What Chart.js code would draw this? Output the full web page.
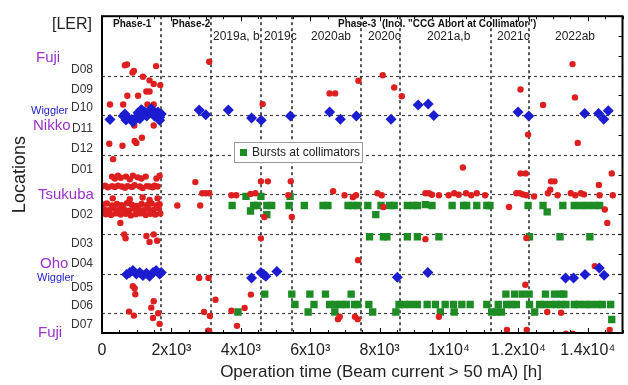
<!DOCTYPE html>
<html>
<head>
<meta charset="utf-8">
<script src="https://cdn.jsdelivr.net/npm/chart.js@4.4.1/dist/chart.umd.min.js"></script>
<style>
  html, body { margin: 0; padding: 0; background: #fff; }
  #chart { display: block; }
</style>
</head>
<body>
<canvas id="chart" width="628" height="385"></canvas>
<script>
// [operation time h, location level]
var redEvents = [
  // Phase-1, D08..D12
  [660, 6.76], [720, 6.78], [920, 6.62], [880, 6.58], [1560, 6.74], [1180, 6.47], [1370, 6.38], [1490, 6.29],
  [1680, 6.26], [1280, 6.10], [1370, 6.10], [730, 5.99], [1040, 5.99], [230, 5.77], [610, 5.77], [1310, 5.77],
  [1490, 5.77], [930, 5.24], [1490, 5.24], [210, 4.78], [590, 4.73], [940, 4.85], [990, 4.80], [1150, 4.93], [320, 4.39],
  // Phase-1, D01/D02 (Tsukuba)
  [290, 3.95], [370, 3.90], [460, 3.97], [540, 3.92], [690, 3.95], [800, 3.88], [890, 3.97], [1030, 3.93],
  [1140, 3.90], [1260, 3.95], [1570, 3.90], [1660, 3.97],
  [0, 3.70], [90, 3.72], [170, 3.68], [290, 3.71], [370, 3.69], [460, 3.72], [570, 3.70], [660, 3.67], [740, 3.71],
  [860, 3.69], [940, 3.73], [1090, 3.70], [1170, 3.66], [1290, 3.71], [1370, 3.70], [1460, 3.68], [1510, 3.72], [1600, 3.70],
  [310, 3.40], [800, 3.38], [1170, 3.42], [1370, 3.36], [1600, 3.40],
  [0, 3.25], [140, 3.27], [290, 3.22], [430, 3.26], [570, 3.23], [720, 3.28], [860, 3.24], [1000, 3.21], [1140, 3.26],
  [1290, 3.23], [1430, 3.27], [1570, 3.22], [1660, 3.25],
  [60, 3.12], [200, 3.10], [340, 3.14], [490, 3.11], [630, 3.13], [770, 3.09], [910, 3.14], [1060, 3.12], [1200, 3.10],
  [1340, 3.13], [1490, 3.11], [1630, 3.15],
  [110, 3.00], [260, 2.98], [400, 3.02], [540, 2.99], [690, 3.01], [830, 2.97], [970, 3.00], [1110, 3.02], [1260, 2.98],
  [1400, 3.01], [1540, 2.99], [1680, 3.02], [530, 2.78],
  // Phase-1, D03..D07
  [640, 2.49], [680, 2.39], [1280, 2.45], [1370, 2.30], [1490, 2.49], [1590, 2.33],
  [890, 1.18], [940, 1.13], [960, 0.98], [1490, 0.80], [1420, 0.64], [780, 0.54], [920, 0.44], [1470, 0.38], [1620, 0.50], [1660, 0.23],
  // Phase-2
  [3090, 6.85], [2170, 3.22], [2690, 3.81], [2890, 3.53], [2990, 3.53], [3090, 3.53], [2830, 3.22],
  [2800, 1.39], [3070, 1.39], [3270, 0.84], [2940, 0.53], [3110, 0.43], [3060, 0.06], [3090, 0.04],
  // Phase-3, upper ring
  [4630, 5.78], [6560, 6.05], [6720, 6.05], [7390, 6.37], [8090, 6.51], [8420, 6.20], [8640, 5.98], [10400, 4.18],
  [12060, 6.15], [12710, 5.76], [13560, 6.79], [13630, 5.95], [12280, 5.01], [13710, 4.80], [12060, 4.03], [12210, 4.03], [14690, 4.03],
  // Phase-3, Tsukuba
  [3730, 3.48], [3870, 3.48], [4280, 3.51], [4420, 3.53], [4580, 3.83], [4780, 3.83], [5440, 3.83], [5370, 3.48],
  [5470, 2.93], [4680, 2.93], [4580, 2.39],
  [6660, 3.58], [6990, 3.48], [7230, 3.43], [7320, 3.48], [7940, 3.53], [8060, 3.48], [8110, 3.18],
  [9320, 3.53], [9420, 3.53], [9510, 3.49], [9710, 3.48], [9990, 3.48], [10150, 3.53], [10280, 3.49], [10490, 3.53],
  [10640, 3.48], [10800, 3.53], [11040, 3.48],
  [11940, 3.53], [12040, 3.53], [12130, 3.50], [12230, 3.48], [12450, 3.45], [11730, 3.18], [12850, 3.53], [12940, 3.83],
  [13040, 3.83], [12920, 3.62], [13130, 3.48], [13510, 3.53], [13640, 3.48], [13800, 3.53], [13890, 3.50], [14320, 3.74],
  [14340, 3.48], [14490, 3.12], [14720, 3.48], [14560, 2.78], [9320, 2.37], [12230, 2.40],
  // Phase-3, lower ring
  [7380, 1.84], [12200, 1.22], [14200, 1.69], [4290, 0.97], [4110, 0.63], [3730, 0.56], [3890, 0.18], [6800, 0.35],
  [6850, 0.41], [7290, 0.41], [7370, 0.35], [9710, 0.41], [12830, 0.53], [13230, 0.51], [11670, 0.08], [12240, 0.08],
  [13370, -0.02], [13570, -0.02], [14630, 0.08]
];

var wigglerEvents = [
  [230, 5.39], [610, 5.48], [660, 5.53], [690, 5.38], [750, 5.43], [850, 5.39], [890, 5.33], [990, 5.45], [1040, 5.56],
  [1090, 5.41], [1130, 5.64], [1160, 5.62], [1230, 5.58], [1290, 5.48], [1420, 5.66], [1470, 5.53], [1510, 5.48],
  [1610, 5.58], [1660, 5.45], [1710, 5.53], [1660, 5.37],
  [2800, 5.63], [2990, 5.51], [3640, 5.63], [4310, 5.43], [4590, 5.37], [5430, 5.48], [6560, 5.58], [6870, 5.40],
  [7330, 5.48], [8330, 5.40], [9110, 5.76], [9400, 5.78], [9560, 5.49], [11990, 5.58], [12300, 5.48], [13910, 5.54],
  [14310, 5.54], [14460, 5.40], [14590, 5.61],
  [710, 1.48], [800, 1.53], [890, 1.58], [990, 1.49], [1090, 1.53], [1180, 1.45], [1280, 1.51], [1370, 1.43],
  [1470, 1.53], [1560, 1.58], [1660, 1.49], [1710, 1.53],
  [4310, 1.39], [4580, 1.53], [4660, 1.48], [4720, 1.43], [5040, 1.55], [8510, 1.41], [9390, 1.53], [13360, 1.39],
  [13590, 1.39], [13920, 1.48], [14330, 1.64], [14470, 1.46]
];

var collimatorBursts = [
  [3750, 3.22], [4370, 3.22], [4470, 3.22], [4750, 3.22], [4890, 3.22], [5390, 3.22], [5830, 3.22], [6370, 3.22],
  [6510, 3.22], [7090, 3.22], [7230, 3.22], [7370, 3.22], [7660, 3.22], [8040, 3.22], [8290, 3.22], [8420, 3.22],
  [8800, 3.22], [8970, 3.22], [9090, 3.22], [9320, 3.24], [9510, 3.22], [10090, 3.22], [10420, 3.22], [10510, 3.22],
  [10800, 3.22], [11090, 3.22], [11180, 3.22], [12280, 3.22], [12710, 3.22], [13280, 3.22], [13610, 3.22], [13800, 3.22],
  [13990, 3.22], [14180, 3.22], [14340, 3.22],
  [4150, 3.45], [4580, 3.45], [5420, 3.45],
  [4280, 3.08], [4750, 2.99], [7890, 2.99], [12830, 3.06],
  [7710, 2.43], [8110, 2.43], [8210, 2.43], [8800, 2.43], [9090, 2.43], [9710, 2.43], [12320, 2.43], [13200, 2.43], [14060, 2.43],
  [4690, 0.98], [5470, 0.98], [5990, 0.98], [6440, 0.98], [7180, 0.98], [11640, 0.98], [11890, 0.98], [12110, 0.98],
  [12310, 0.98], [12780, 0.98], [13040, 0.98], [13230, 0.98], [13310, 0.98],
  [5560, 0.72], [6110, 0.72], [6560, 0.72], [6710, 0.72], [6890, 0.72], [7040, 0.72], [7280, 0.72], [7370, 0.72],
  [7690, 0.72], [8560, 0.72], [8710, 0.72], [8890, 0.72], [9090, 0.72], [9370, 0.72], [9610, 0.72], [9890, 0.72],
  [10130, 0.72], [10370, 0.72], [10610, 0.72], [11090, 0.72], [11420, 0.72], [11660, 0.72], [11800, 0.72], [11940, 0.72],
  [12320, 0.72], [12610, 0.72], [12750, 0.72], [12940, 0.72], [13090, 0.72], [13230, 0.72], [13370, 0.72], [13610, 0.72],
  [13750, 0.72], [13940, 0.72], [14090, 0.72], [14280, 0.72], [14420, 0.72], [14660, 0.72],
  [3920, 0.53], [5940, 0.53], [6710, 0.53], [7800, 0.53], [8470, 0.53], [9750, 0.53], [10150, 0.53], [11230, 0.53],
  [11370, 0.53], [11510, 0.53], [12470, 0.53], [14690, 0.34]
];

var yTickValues = [6.65, 6.15, 5.68, 5.15, 4.65, 4.13, 3.0, 2.25, 1.75, 1.15, 0.7, 0.2];
var yTickLabels = ["D08", "D09", "D10", "D11", "D12", "D01", "D02", "D03", "D04", "D05", "D06", "D07"];
var xTickValues = [0, 2000, 4000, 6000, 8000, 10000, 12000, 14000];
var xTickLabels = ["0", "2x10\u00b3", "4x10\u00b3", "6x10\u00b3", "8x10\u00b3", "1x10\u2074", "1.2x10\u2074", "1.4x10\u2074"];

var rowBounds = [6.5, 5.5, 4.5, 3.5, 2.5, 1.5, 0.5];
var phaseBounds = [1714, 3143, 4571, 5486, 7457, 8600, 11200, 12314];

var locationNames = ["Fuji", "Wiggler", "Nikko", "Tsukuba", "Oho", "Wiggler", "Fuji"];
var locationLevels = [6.95, 5.6, 5.22, 3.5, 1.75, 1.38, 0.0];

var FONT = "'Liberation Sans', Arial, sans-serif";
var PURPLE = "#9932cc";

function toPoints(list) {
  return list.map(function (p) { return { x: p[0], y: p[1] }; });
}

var overlay = {
  id: "overlay",
  beforeDatasetsDraw: function (chart) {
    var ctx = chart.ctx, a = chart.chartArea;
    var xs = chart.scales.x, ys = chart.scales.y;
    ctx.save();
    ctx.setLineDash([3, 3]);
    ctx.strokeStyle = "#444";
    ctx.lineWidth = 1.2;
    rowBounds.forEach(function (v) {
      var py = Math.round(ys.getPixelForValue(v)) + 0.5;
      ctx.beginPath(); ctx.moveTo(a.left, py); ctx.lineTo(a.right, py); ctx.stroke();
    });
    ctx.strokeStyle = "#222";
    ctx.lineWidth = 1.5;
    phaseBounds.forEach(function (t) {
      var px = Math.round(xs.getPixelForValue(t));
      ctx.beginPath(); ctx.moveTo(px, a.top); ctx.lineTo(px, a.bottom); ctx.stroke();
    });
    ctx.restore();
  },
  afterDraw: function (chart) {
    var ctx = chart.ctx, a = chart.chartArea;
    var xs = chart.scales.x, ys = chart.scales.y;
    ctx.save();

    // frame and inward ticks
    ctx.strokeStyle = "#000";
    ctx.lineWidth = 2;
    ctx.strokeRect(a.left, a.top, a.right - a.left, a.bottom - a.top);
    ctx.lineWidth = 1;
    for (var t = 0; t <= 15000; t += 500) {
      var px = Math.round(xs.getPixelForValue(t)) + 0.5;
      var len = t % 2000 === 0 ? 5 : 3;
      ctx.beginPath();
      ctx.moveTo(px, a.bottom); ctx.lineTo(px, a.bottom - len);
      ctx.moveTo(px, a.top); ctx.lineTo(px, a.top + len);
      ctx.stroke();
    }
    for (var v = 0.5; v < 8; v += 0.5) {
      var py = Math.round(ys.getPixelForValue(v)) + 0.5;
      ctx.beginPath(); ctx.moveTo(a.right, py); ctx.lineTo(a.right - 4, py); ctx.stroke();
    }

    ctx.textBaseline = "middle";
    ctx.textAlign = "left";

    ctx.fillStyle = "#222";
    ctx.font = "16px " + FONT;
    ctx.fillText("[LER]", 52, 25);

    // x axis title, set a little right of the plot centre as in the source
    ctx.textAlign = "center";
    ctx.font = "17px " + FONT;
    ctx.fillText("Operation time (Beam current > 50 mA) [h]", 381, 372);
    ctx.textAlign = "left";

    // location names beside the tick labels
    locationNames.forEach(function (name, i) {
      var py = ys.getPixelForValue(locationLevels[i]);
      var isWiggler = name === "Wiggler";
      ctx.fillStyle = isWiggler ? "#2222cc" : PURPLE;
      ctx.font = (isWiggler ? "11px " : "15px ") + FONT;
      var lx = [36, 31, 33, 38, 40, 37, 38][i];
      ctx.fillText(name, lx, py);
    });

    // run periods
    ctx.fillStyle = "#111";
    ctx.font = "bold 10px " + FONT;
    ctx.fillText("Phase-1", 113, 24);
    ctx.fillText("Phase-2", 172, 24);
    ctx.fillText("Phase-3  (Incl. \"CCG Abort at Collimator\")", 338, 24);
    ctx.fillStyle = "#222";
    ctx.font = "12px " + FONT;
    [["2019a, b", 213], ["2019c", 264], ["2020ab", 311], ["2020c", 368],
     ["2021a,b", 427], ["2021c", 497], ["2022ab", 555]].forEach(function (p) {
      ctx.fillText(p[0], p[1], 37);
    });

    // legend box
    ctx.fillStyle = "#fff";
    ctx.fillRect(234, 142, 128, 20);
    ctx.strokeStyle = "#999";
    ctx.lineWidth = 1;
    ctx.strokeRect(234.5, 142.5, 128, 20);
    ctx.fillStyle = "#1d8c24";
    ctx.fillRect(240, 149, 7, 7);
    ctx.fillStyle = "#222";
    ctx.font = "12px " + FONT;
    ctx.fillText("Bursts at collimators", 252, 153);

    ctx.restore();
  }
};

new Chart(document.getElementById("chart").getContext("2d"), {
  type: "scatter",
  data: {
    datasets: [
      {
        label: "Wiggler",
        data: toPoints(wigglerEvents),
        pointStyle: "rectRot",
        pointRadius: 5.5,
        backgroundColor: "#1c1cd0",
        borderWidth: 0,
        order: 1,
      },
      {
        label: "Events",
        data: toPoints(redEvents),
        pointStyle: "circle",
        pointRadius: 3.2,
        backgroundColor: "#de1f1f",
        borderWidth: 0,
        order: 2,
      },
      {
        label: "Bursts at collimators",
        data: toPoints(collimatorBursts),
        pointStyle: "rect",
        pointRadius: 5.2,
        backgroundColor: "#1d8c24",
        borderWidth: 0,
        order: 3,
      },
    ],
  },
  options: {
    responsive: false,
    animation: false,
    layout: { padding: { top: 13, right: 2, left: 0, bottom: 0 } },
    plugins: {
      legend: { display: false },
      tooltip: { enabled: false },
    },
    scales: {
      x: {
        type: "linear",
        min: 0,
        max: 15000,
        afterBuildTicks: function (scale) {
          scale.ticks = xTickValues.map(function (v) { return { value: v }; });
        },
        afterFit: function (scale) { scale.height = 52; },
        grid: { display: false, drawTicks: false },
        border: { display: false },
        ticks: {
          autoSkip: false,
          maxRotation: 0,
          padding: 8,
          color: "#222",
          font: { family: FONT, size: 16 },
          callback: function (value, index) { return xTickLabels[index]; },
        },
        title: { display: false },
      },
      y: {
        type: "linear",
        min: 0,
        max: 8,
        afterBuildTicks: function (scale) {
          scale.ticks = yTickValues.map(function (v) { return { value: v }; });
        },
        afterFit: function (scale) { scale.width = 102; },
        grid: { display: false, drawTicks: false },
        border: { display: false },
        ticks: {
          autoSkip: false,
          padding: 9,
          color: "#333",
          font: { family: FONT, size: 12 },
          callback: function (value, index) { return yTickLabels[index]; },
        },
        title: {
          display: true,
          text: "Locations",
          color: "#222",
          font: { family: FONT, size: 18 },
          padding: { top: 9, bottom: 0 },
        },
      },
    },
  },
  plugins: [overlay],
});
</script>
</body>
</html>
